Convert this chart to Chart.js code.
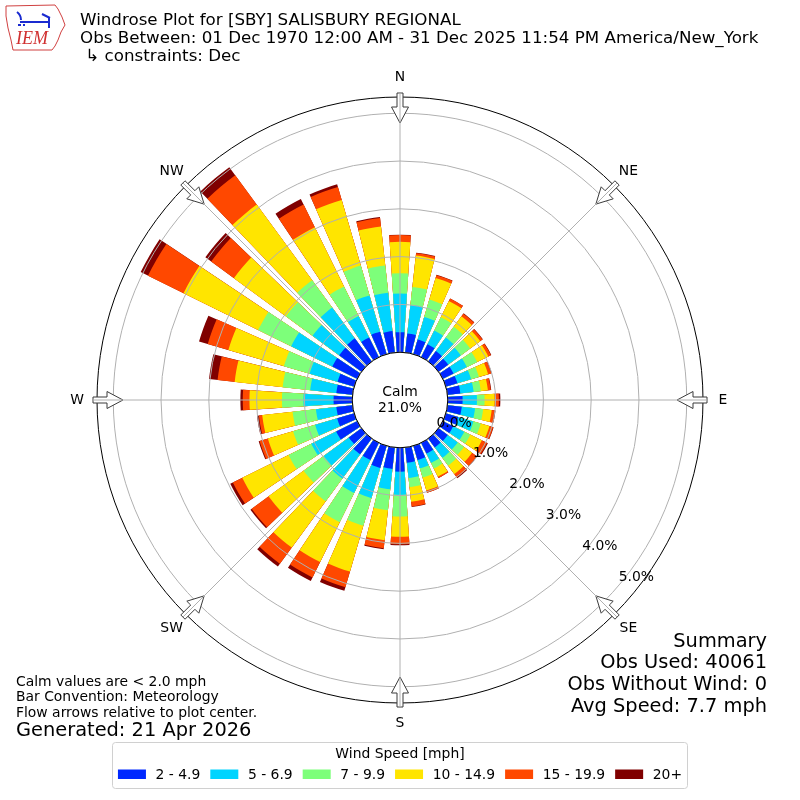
<!DOCTYPE html>
<html>
<head>
<meta charset="utf-8">
<title>Windrose SBY</title>
<script src="https://cdn.jsdelivr.net/npm/chart.js@4.4.1/dist/chart.umd.min.js"></script>
<style>
  html, body { margin: 0; padding: 0; background: #fff; }
  #wrap { width: 800px; height: 800px; }
</style>
</head>
<body>
<div id="wrap"><canvas id="rose" width="800" height="800"></canvas></div>
<script>
// direction bins (deg, direction the wind blows from)
var directions = [0, 10, 20, 30, 40, 50, 60, 70, 80, 90, 100, 110, 120, 130, 140, 150, 160, 170,
                  180, 190, 200, 210, 220, 230, 240, 250, 260, 270, 280, 290, 300, 310, 320, 330, 340, 350];

var speedBins = ['2 - 4.9', '5 - 6.9', '7 - 9.9', '10 - 14.9', '15 - 19.9', '20+'];
var binColors = ['#0028ff', '#00d4ff', '#7dff7a', '#ffe500', '#ff4800', '#800000'];

// frequency [%] of each speed bin, per direction
var speed2to5 = [0.42, 0.40, 0.32, 0.30, 0.27, 0.25, 0.25, 0.25, 0.27, 0.31, 0.30, 0.27, 0.24, 0.24, 0.23, 0.25, 0.31, 0.32,
                 0.50, 0.45, 0.48, 0.40, 0.41, 0.33, 0.49, 0.37, 0.34, 0.39, 0.34, 0.36, 0.58, 0.58, 0.60, 0.46, 0.49, 0.45];
var speed5to7 = [0.81, 0.60, 0.49, 0.32, 0.35, 0.33, 0.31, 0.30, 0.28, 0.30, 0.28, 0.33, 0.26, 0.26, 0.27, 0.22, 0.18, 0.32,
                 0.48, 0.43, 0.66, 0.77, 0.63, 0.65, 0.58, 0.48, 0.43, 0.63, 0.55, 0.61, 0.96, 0.69, 0.80, 0.50, 0.79, 0.81];
var speed7to10 = [0.42, 0.38, 0.38, 0.31, 0.28, 0.24, 0.24, 0.17, 0.15, 0.16, 0.17, 0.16, 0.14, 0.16, 0.20, 0.13, 0.20, 0.19,
                  0.46, 0.44, 0.60, 0.68, 0.59, 0.52, 0.53, 0.48, 0.49, 0.45, 0.58, 0.56, 0.77, 0.69, 0.71, 0.69, 0.65, 0.57];
var speed10to15 = [0.66, 0.66, 0.47, 0.38, 0.27, 0.26, 0.26, 0.20, 0.15, 0.21, 0.18, 0.19, 0.27, 0.21, 0.22, 0.19, 0.28, 0.31,
                   0.42, 0.63, 1.00, 0.93, 1.20, 0.91, 1.08, 0.55, 0.64, 0.68, 1.01, 1.21, 1.74, 1.35, 1.96, 1.38, 1.43, 0.82];
var speed15to20 = [0.14, 0.05, 0.06, 0.06, 0.07, 0.06, 0.06, 0.07, 0.06, 0.09, 0.07, 0.08, 0.12, 0.12, 0.09, 0.03, 0.05, 0.10,
                   0.16, 0.17, 0.34, 0.36, 0.42, 0.44, 0.22, 0.18, 0.07, 0.14, 0.36, 0.45, 0.83, 0.59, 0.76, 0.53, 0.28, 0.18];
var speed20up = [0.01, 0.01, 0.01, 0.00, 0.01, 0.01, 0.01, 0.01, 0.01, 0.03, 0.01, 0.01, 0.02, 0.01, 0.02, 0.00, 0.00, 0.01,
                 0.02, 0.02, 0.08, 0.08, 0.07, 0.03, 0.06, 0.02, 0.04, 0.05, 0.18, 0.19, 0.17, 0.15, 0.21, 0.13, 0.06, 0.02];

var radialTicks = [0, 1, 2, 3, 4, 5];
var compassLabels = ['N', 'NE', 'E', 'SE', 'S', 'SW', 'W', 'NW'];
var calmPercent = 21.0;
var rOuter = 5.34;

var titleLines = ['Windrose Plot for [SBY] SALISBURY REGIONAL',
                  'Obs Between: 01 Dec 1970 12:00 AM - 31 Dec 2025 11:54 PM America/New_York',
                  ' \u21b3 constraints: Dec'];
var noteLines = ['Calm values are < 2.0 mph', 'Bar Convention: Meteorology', 'Flow arrows relative to plot center.'];
var generatedText = 'Generated: 21 Apr 2026';
var summaryLines = ['Summary', 'Obs Used: 40061', 'Obs Without Wind: 0', 'Avg Speed: 7.7 mph'];

var FONT = '"DejaVu Sans", Arial, sans-serif';
var SMALL = 13.9, MEDIUM = 16.7, LARGE = 19.4;
var BAR_ANGLE = 7.5;
var GAP_ANGLE = 10 - BAR_ANGLE;

//______ stack the bins, each direction becomes a bar + an empty gap slice

var binValues = [speed2to5, speed5to7, speed7to10, speed10to15, speed15to20, speed20up];
var running = directions.map(function() { return 0; });
var labels = [];
var arcAngles = [];
directions.forEach(function(d) {
	labels.push(d + '\u00b0', '');
	arcAngles.push(BAR_ANGLE, GAP_ANGLE);
});

var datasets = binValues.map(function(vals, k) {
	running = running.map(function(r, i) { return r + vals[i]; });
	var data = [];
	running.forEach(function(v) {
		data.push(+v.toFixed(2), -1);
	});
	return {
		label: speedBins[k],
		data: data,
		backgroundColor: binColors[k],
		borderWidth: 0,
		angle: arcAngles
	};
});

function text(ctx, str, x, y, size, align, base) {
	ctx.font = size + 'px ' + FONT;
	ctx.textAlign = align || 'left';
	ctx.textBaseline = base || 'alphabetic';
	ctx.fillStyle = '#000';
	ctx.fillText(str, x, y);
}

function drawArrow(ctx, s, deg, R) {
	var a = deg * Math.PI / 180;
	var ux = Math.sin(a), uy = -Math.cos(a);
	var px = Math.cos(a), py = Math.sin(a);
	var pts = [[R + 4, -3], [R - 10, -3], [R - 10, -8.5], [R - 26, 0], [R - 10, 8.5], [R - 10, 3], [R + 4, 3]];
	ctx.beginPath();
	pts.forEach(function(p, i) {
		var x = s.xCenter + ux * p[0] + px * p[1];
		var y = s.yCenter + uy * p[0] + py * p[1];
		if(i === 0) ctx.moveTo(x, y); else ctx.lineTo(x, y);
	});
	ctx.closePath();
	ctx.fillStyle = '#fff';
	ctx.fill();
	ctx.strokeStyle = '#3a3a3a';
	ctx.lineWidth = 1;
	ctx.stroke();
}

function drawLogo(ctx) {
	ctx.save();
	var outline = [[6, 6], [55, 5], [58, 9], [62, 17], [65, 25], [61, 32], [58, 40], [55, 46], [52, 50],
	               [13, 50], [11, 40], [8, 28], [6, 16]];
	ctx.beginPath();
	outline.forEach(function(p, i) { if(i === 0) ctx.moveTo(p[0], p[1]); else ctx.lineTo(p[0], p[1]); });
	ctx.closePath();
	ctx.strokeStyle = '#d04040';
	ctx.lineWidth = 1;
	ctx.stroke();

	ctx.strokeStyle = '#1a2bd0';
	ctx.fillStyle = '#1a2bd0';
	ctx.lineWidth = 2;
	ctx.beginPath();
	ctx.moveTo(20, 22); ctx.lineTo(50, 22);
	ctx.moveTo(17, 12); ctx.quadraticCurveTo(21, 15, 21, 20);
	ctx.moveTo(42, 14); ctx.lineTo(50, 18);
	ctx.moveTo(49, 18); ctx.lineTo(49, 28);
	ctx.stroke();
	ctx.fillRect(18, 24, 3, 2);
	ctx.fillRect(23, 24, 2, 2);

	ctx.font = 'italic 18px "Liberation Serif", serif';
	ctx.fillStyle = '#d03030';
	ctx.textAlign = 'left';
	ctx.textBaseline = 'alphabetic';
	ctx.fillText('IEM', 16, 44);
	ctx.restore();
}

var roseDecor = {
	id: 'roseDecor',
	afterDatasetsDraw: function(chart) {
		// calm disc hides the roots of the bars
		var s = chart.scales.r;
		var ctx = chart.ctx;
		ctx.save();
		ctx.beginPath();
		ctx.arc(s.xCenter, s.yCenter, s.getDistanceFromCenterForValue(0), 0, 2 * Math.PI);
		ctx.fillStyle = '#fff';
		ctx.fill();
		ctx.restore();
	},
	afterDraw: function(chart) {
		var s = chart.scales.r;
		var ctx = chart.ctx;
		var r0 = s.getDistanceFromCenterForValue(0);
		var R = s.getDistanceFromCenterForValue(rOuter);
		ctx.save();

		compassLabels.forEach(function(lab, k) {
			drawArrow(ctx, s, k * 45, R);
		});

		ctx.strokeStyle = '#b0b0b0';
		ctx.lineWidth = 1;
		compassLabels.forEach(function(lab, k) {
			var a = k * Math.PI / 4;
			ctx.beginPath();
			ctx.moveTo(s.xCenter + Math.sin(a) * r0, s.yCenter - Math.cos(a) * r0);
			ctx.lineTo(s.xCenter + Math.sin(a) * (R + 4), s.yCenter - Math.cos(a) * (R + 4));
			ctx.stroke();
			text(ctx, lab, s.xCenter + Math.sin(a) * (R + 20), s.yCenter - Math.cos(a) * (R + 20), SMALL, 'center', 'middle');
		});

		// calm circle outline
		ctx.beginPath();
		ctx.arc(s.xCenter, s.yCenter, r0, 0, 2 * Math.PI);
		ctx.strokeStyle = '#000';
		ctx.lineWidth = 1;
		ctx.stroke();
		text(ctx, 'Calm', s.xCenter, s.yCenter - 8, SMALL, 'center', 'middle');
		text(ctx, calmPercent.toFixed(1) + '%', s.xCenter, s.yCenter + 8, SMALL, 'center', 'middle');

		// radial labels along a ray below east
		var la = 40.3 * Math.PI / 180;
		radialTicks.forEach(function(v) {
			var r = s.getDistanceFromCenterForValue(v);
			text(ctx, v.toFixed(1) + '%', s.xCenter + Math.cos(la) * r, s.yCenter + Math.sin(la) * r - 8, SMALL, 'left', 'middle');
		});

		// header
		text(ctx, titleLines[0], 80, 25, MEDIUM);
		text(ctx, titleLines[1], 80, 43.3, MEDIUM);
		text(ctx, titleLines[2], 80, 61.3, MEDIUM);
		drawLogo(ctx);

		// notes and summary
		text(ctx, noteLines[0], 16, 685.5, SMALL);
		text(ctx, noteLines[1], 16, 701.3, SMALL);
		text(ctx, noteLines[2], 16, 717, SMALL);
		text(ctx, generatedText, 16, 736, LARGE);
		[646.7, 668.3, 690, 711.7].forEach(function(y, i) {
			text(ctx, summaryLines[i], 767, y, LARGE, 'right');
		});

		// legend
		ctx.beginPath();
		ctx.roundRect(112.5, 742.5, 575, 46, 3);
		ctx.fillStyle = 'rgba(255,255,255,0.8)';
		ctx.fill();
		ctx.strokeStyle = '#d0d0d0';
		ctx.stroke();
		text(ctx, 'Wind Speed [mph]', 400, 758, SMALL, 'center');
		ctx.font = SMALL + 'px ' + FONT;
		var widths = speedBins.map(function(b) { return 28 + 9.6 + ctx.measureText(b).width; });
		var total = widths.reduce(function(a, b) { return a + b; }, 0) + 10 * (speedBins.length - 1);
		var x = 400 - total / 2;
		speedBins.forEach(function(b, i) {
			ctx.fillStyle = binColors[i];
			ctx.fillRect(x, 769.5, 28, 9.5);
			text(ctx, b, x + 37.6, 779, SMALL);
			x += widths[i] + 10;
		});

		ctx.restore();
	}
};

new Chart(document.getElementById('rose'), {
	type: 'polarArea',
	data: { labels: labels, datasets: datasets },
	options: {
		responsive: false,
		animation: false,
		events: [],
		layout: { padding: 97 },
		plugins: {
			legend: { display: false },
			title: { display: false },
			tooltip: { enabled: false }
		},
		scales: {
			r: {
				min: -1,
				max: rOuter,
				startAngle: -BAR_ANGLE / 2,
				afterBuildTicks: function(axis) {
					axis.ticks = [-1].concat(radialTicks, [rOuter]).map(function(v) { return { value: v }; });
				},
				ticks: { display: false },
				grid: {
					z: 1,
					circular: true,
					lineWidth: 1,
					color: function(c) { return c.tick && c.tick.value === rOuter ? '#000' : '#b0b0b0'; }
				},
				angleLines: { display: false },
				pointLabels: { display: false }
			}
		}
	},
	plugins: [roseDecor]
});
</script>
</body>
</html>
